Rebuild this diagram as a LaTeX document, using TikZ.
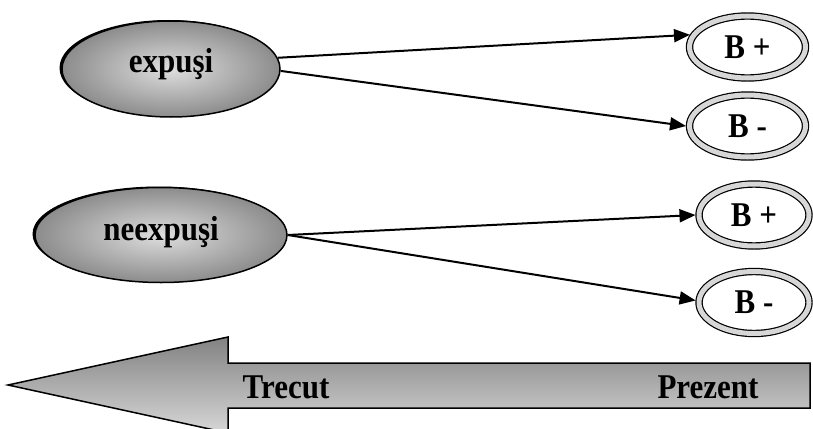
\documentclass[tikz,border=0pt]{standalone}
\usepackage{fontspec}
\setmainfont{Liberation Serif}
\usetikzlibrary{shapes.geometric,arrows.meta}

\definecolor{ballin}{RGB}{222,222,222}
\definecolor{ballout}{RGB}{140,140,140}
\definecolor{ringgray}{RGB}{215,215,215}
\definecolor{arrtop}{RGB}{130,130,130}
\definecolor{arrbot}{RGB}{215,215,215}

% slightly tall bold lettering
\newcommand{\tallword}[1]{\scalebox{1}[1.12]{#1}}

\tikzset{
  lbl/.style={font=\bfseries\fontsize{31}{36}\selectfont},
  group/.style={ellipse, draw=black, line width=1.5pt, inner sep=0pt,
    shading=radial, inner color=ballin, outer color=ballout,
    preaction={fill=black, transform canvas={shift={(-2.5pt,1pt)}}}},
  outcome/.style={ellipse, lbl, draw=black, line width=1.2pt, fill=white,
    double=ringgray, double distance=5pt, inner sep=0pt, outer sep=3.5pt,
    minimum width=116pt, minimum height=62pt},
  link/.style={line width=2pt, -{Triangle[length=16pt,width=13pt]}},
  timeline/.style={draw=black, line width=1.5pt,
    top color=arrtop, bottom color=arrbot}
}

\begin{document}
\begin{tikzpicture}[x=1pt,y=-1pt]
  \useasboundingbox (0,0) rectangle (813,428);
  \clip (0,0) rectangle (813,428);

  % exposure groups
  \node[group, minimum width=218pt, minimum height=96pt,
        label={[lbl, yshift=5pt]center:\tallword{expuşi}}] (e1) at (171,69) {};
  \node[group, minimum width=252pt, minimum height=95pt,
        label={[lbl, yshift=3pt]center:\tallword{neexpuşi}}] (e2) at (161,235) {};

  % outcomes
  \node[outcome] (b1p) at (747.5,47)  {\tallword{B +}};
  \node[outcome] (b1m) at (747.5,126) {\tallword{B -}};
  \node[outcome, minimum width=110pt] (b2p) at (754,215)   {\tallword{B +}};
  \node[outcome, minimum width=110pt] (b2m) at (754,302.5) {\tallword{B -}};

  % connectors
  \draw[link] (e1.6)    -- (b1p.168);
  \draw[link] (e1.-1)   -- (b1m.west);
  \draw[link] (e2.east) -- (b2p.west);
  \draw[link] (e2.east) -- (b2m.178);

  % time axis
  \draw[timeline] (8,385) -- (228,337) -- (228,363) -- (810,363)
     -- (810,408) -- (228,408) -- (228,433) -- cycle;
  \node[lbl] (past) at (286,387) {\tallword{Trecut}};
  \node[lbl] (now)  at (708,387) {\tallword{Prezent}};
\end{tikzpicture}
\end{document}
